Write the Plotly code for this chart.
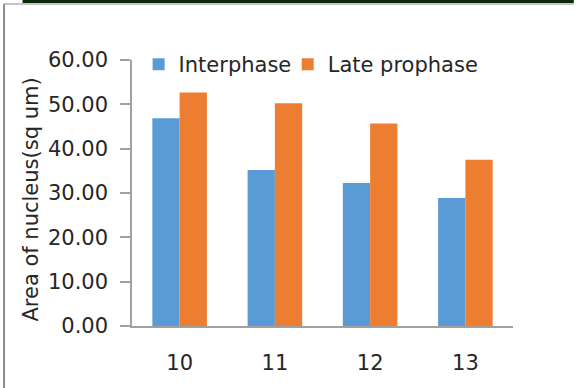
import plotly.graph_objects as go

# Mean nuclear area per group
categories = ["10", "11", "12", "13"]
interphase = [46.85, 35.2, 32.25, 28.85]
late_prophase = [52.65, 50.25, 45.7, 37.5]
y_ticks = [0, 10, 20, 30, 40, 50, 60]
y_tick_labels = ["0.00", "10.00", "20.00", "30.00", "40.00", "50.00", "60.00"]
y_title = "Area of nucleus(sq um)"

W, H = 580, 388
L, R, T, B = 132.4, 66.8, 60, 62
pw = W - L - R
ph = H - T - B

def px_x(p):
    return (p - L) / pw

def px_y(p):
    return (H - B - p) / ph

FONT = "DejaVu Sans"
FS = 21
TEXT = "#262626"
AXIS = "#a0a0a0"

fig = go.Figure()
fig.add_trace(go.Bar(x=categories, y=interphase, name="Interphase", legend="legend",
                     marker=dict(color="#5B9BD5", line=dict(width=0))))
fig.add_trace(go.Bar(x=categories, y=late_prophase, name="Late prophase", legend="legend2",
                     marker=dict(color="#ED7D31", line=dict(width=0))))

legend_style = dict(orientation="h", xanchor="left", yanchor="top", itemwidth=30,
                    font=dict(family=FONT, size=FS, color=TEXT),
                    bgcolor="rgba(0,0,0,0)")

fig.update_layout(
    width=W, height=H,
    margin=dict(l=L, r=R, t=T, b=B, pad=0),
    paper_bgcolor="white", plot_bgcolor="white",
    barmode="group", bargap=0.427, bargroupgap=0,
    font=dict(family=FONT, size=FS, color=TEXT),
    showlegend=True,
    legend=dict(x=px_x(139), y=px_y(44), **legend_style),
    legend2=dict(x=px_x(288), y=px_y(44), **legend_style),
    xaxis=dict(type="category", showgrid=False, zeroline=False,
               showline=True, linecolor=AXIS, linewidth=1.5,
               ticks="", tickfont=dict(size=FS), ticklabelstandoff=17),
    yaxis=dict(range=[0, 60], tickvals=y_ticks, ticktext=y_tick_labels,
               showgrid=False, zeroline=False, showline=True, linecolor=AXIS,
               linewidth=1.5, ticks="outside", ticklen=10, tickcolor=AXIS,
               tickwidth=1.5, tickfont=dict(size=FS), ticklabelstandoff=8),
    annotations=[
        dict(text=y_title, textangle=-90, xref="paper", yref="paper",
             x=px_x(31), y=px_y(200), xanchor="center", yanchor="middle",
             showarrow=False, font=dict(family=FONT, size=FS, color=TEXT)),
    ],
    shapes=[
        # frame edges
        dict(type="line", xref="paper", yref="paper", x0=px_x(4.5), x1=px_x(4.5),
             y0=px_y(4), y1=px_y(H + 2), line=dict(color="#8c8c8c", width=2)),
        dict(type="line", xref="paper", yref="paper", x0=px_x(4), x1=px_x(574),
             y0=px_y(4), y1=px_y(4), line=dict(color="#b0b0b0", width=1.5)),
        # dark band along the top edge
        dict(type="rect", xref="paper", yref="paper", x0=px_x(23), x1=px_x(574),
             y0=px_y(3), y1=px_y(-2), fillcolor="#0b2a0b", line=dict(width=0)),
    ],
)

fig.write_html("out.html")
